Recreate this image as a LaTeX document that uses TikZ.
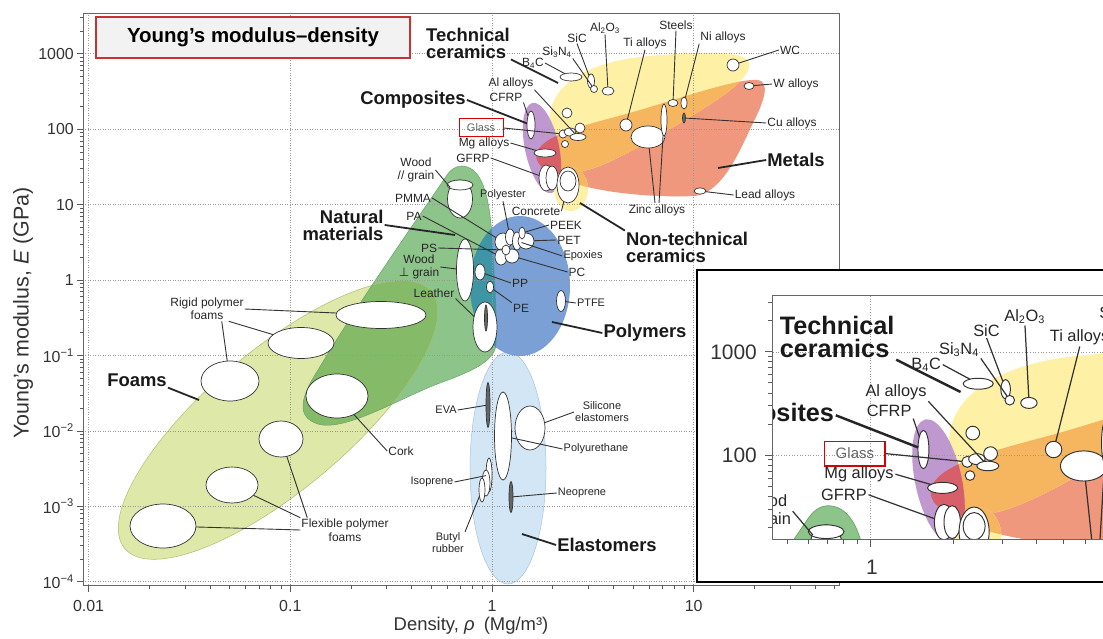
\documentclass[tikz,border=0pt]{standalone}
\usepackage{fontspec}
\setmainfont{Liberation Sans}
\newfontfamily\symfont{DejaVu Sans}
\usetikzlibrary{shapes.geometric}
\definecolor{foamc}{RGB}{222,232,168}
\definecolor{foaml}{RGB}{175,190,110}
\definecolor{natc}{RGB}{140,196,138}
\definecolor{natl}{RGB}{105,165,105}
\definecolor{natfoamc}{RGB}{132,186,104}
\definecolor{polyc}{RGB}{122,160,214}
\definecolor{natpolyc}{RGB}{62,150,165}
\definecolor{elasc}{RGB}{210,230,246}
\definecolor{elasl}{RGB}{170,195,215}
\definecolor{techc}{RGB}{254,241,165}
\definecolor{metc}{RGB}{240,152,125}
\definecolor{mettechc}{RGB}{246,182,95}
\definecolor{compc}{RGB}{192,152,208}
\definecolor{compmetc}{RGB}{215,95,105}
\definecolor{titlered}{RGB}{200,50,50}
\def\lwf{1}
\tikzset{
 bub/.style={ellipse, draw=black!80, fill=white, line width={0.7bp*\lwf}, inner sep=0pt, outer sep=0pt},
 bb/.style 2 args={bub, minimum width=#1bp, minimum height=#2bp},
 dk/.style 2 args={bb={#1}{#2}, fill=black!60},
 lab/.style={font=\fontsize{12}{13.5}\selectfont, inner sep=1bp, align=center, text=black!85},
 slab/.style={font=\fontsize{11}{12}\selectfont, inner sep=1bp, align=center, text=black!85},
 big/.style={font=\bfseries\fontsize{18.5}{17}\selectfont, inner sep=1bp, text=black!90},
 lead/.style={draw=black!80, line width={0.9bp*\lwf}},
 blead/.style={draw=black!85, line width={1.8bp*\lwf}},
 tick/.style={draw=black!65, line width=0.6bp},
 gridl/.style={draw=black!40, line width={0.5bp*\lwf}, dotted},
 tk/.style={font=\fontsize{16}{16}\selectfont, text=black!80, inner sep=0pt},
 itk/.style={font=\fontsize{21}{21}\selectfont, text=black!80, inner sep=0pt},
 glassbox/.style={draw=red!85!black, line width={1bp*\lwf}, text=black!60, font=\fontsize{11}{12}\selectfont, minimum width=44bp, minimum height=18bp, inner sep=1bp},
 titlebox/.style={draw=titlered, fill=black!5, line width=1.2bp, font=\bfseries\fontsize{20.5}{22}\selectfont, minimum width=314bp, minimum height=41bp},
 envl/.style={line width={0.5bp*\lwf}},
}
\def\foamsP{(278,420) ellipse [x radius=200, y radius=70]}
\def\natP{(462,166) .. controls (482,167) and (489,195) .. (492,235) .. controls (495,280) and (498,330) .. (496,345) .. controls (494,362) and (470,372) .. (440,383) .. controls (400,398) and (345,432) .. (318,424) .. controls (296,417) and (300,398) .. (318,370) .. controls (360,300) and (420,215) .. (445,178) .. controls (450,170) and (455,166) .. (462,166) -- cycle}
\def\polyP{(520,286) ellipse [x radius=50, y radius=70]}
\def\elasP{(508,468) ellipse [x radius=38, y radius=116]}
\def\techP{(550,125) .. controls (546,90) and (580,64) .. (640,57) .. controls (700,51) and (745,50) .. (749,63) .. controls (753,80) and (710,105) .. (665,132) .. controls (620,158) and (580,180) .. (560,170) .. controls (551,163) and (551,145) .. (550,125) -- cycle}
\def\metP{(537,152) .. controls (545,132) and (600,122) .. (640,110) .. controls (690,95) and (740,78) .. (758,80) .. controls (770,82) and (765,100) .. (752,125) .. controls (738,155) and (722,192) .. (695,196) .. controls (650,198) and (590,192) .. (560,178) .. controls (545,171) and (533,163) .. (537,152) -- cycle}
\def\compP{(542,148) ellipse [x radius=17, y radius=46]}
\def\ntcP{(571,189) ellipse [x radius=17, y radius=22]}
% ---------- envelopes, grid, bubbles ----------
\newcommand\chartshapes{%
\fill[foamc, rotate around={40:(278,420)}] \foamsP;
\fill[natc] \natP;
\begin{scope}
\clip[rotate around={40:(278,420)}] \foamsP;
\fill[natfoamc] \natP;
\end{scope}
\draw[foaml, envl, rotate around={40:(278,420)}] \foamsP;
\draw[natl, envl] \natP;
\fill[elasc] \elasP;
\draw[elasl, envl] \elasP;
\fill[polyc] \polyP;
\begin{scope}
\clip \natP;
\fill[natpolyc] \polyP;
\end{scope}
\fill[metc] \metP;
\fill[techc] \techP;
\begin{scope}
\clip \metP;
\fill[mettechc] \techP;
\end{scope}
\fill[compc, rotate around={12:(542,148)}] \compP;
\begin{scope}
\clip[rotate around={12:(542,148)}] \compP;
\fill[compmetc] \metP;
\end{scope}
\fill[techc] \ntcP;
\begin{scope}
\clip \ntcP;
\fill[mettechc] \metP;
\end{scope}
\foreach \gx in {88.6,290.3,492,693.7} \draw[gridl] (\gx,13) -- (\gx,585);
\foreach \k in {-4,...,3} \draw[gridl] (83,{280-75.43*\k}) -- (839,{280-75.43*\k});
\node[bb={66}{44}] (ffa) at (163,526) {};
\node[bb={52}{36}] (ffb) at (232,485) {};
\node[bb={44}{36}] (ffc) at (281,439) {};
\node[bb={58}{40}] (rfd) at (230,381) {};
\node[bb={66}{31}] (rfe) at (301,343) {};
\node[bb={90}{27}] (rff) at (381,315) {};
\node[bb={62}{44}] (cork) at (337,396) {};
\node[bb={25}{38}] (woodpar) at (460,199) {};
\node[bb={26}{10}] (woodtop) at (460,185) {};
\node[bb={17}{62}] (woodperp) at (465,270) {};
\node[bb={24}{50}] (leather) at (485,327) {};
\node[dk={3}{26}] (leatherbar) at (486,318) {};
\node[bb={16}{18}] (c1) at (503,242) {};
\node[bb={9}{16}] (c2) at (510,237) {};
\node[bb={9}{18}] (c3) at (517,241) {};
\node[bb={16}{16}] (c4) at (526,241) {};
\node[bb={6}{12}] (c5) at (522,233) {};
\node[bb={12}{16}] (c6) at (501,257) {};
\node[bb={14}{14}] (c7) at (512,256) {};
\node[bb={8}{10}] (c8) at (506,250) {};
\node[bb={10}{16}] (pp) at (480,272) {};
\node[bb={7}{12}] (pe) at (490,287) {};
\node[bb={9}{21}] (ptfe) at (561,301) {};
\node[dk={4}{45}] (eva) at (488,405) {};
\node[bb={17}{88}] (pu) at (503,436) {};
\node[bb={30}{44}] (sil) at (530,428) {};
\node[bb={6}{34}] (iso1) at (489,475) {};
\node[bb={8}{26}] (iso2) at (486,483) {};
\node[bb={6}{24}] (butyl) at (482,490) {};
\node[dk={4}{31}] (neo) at (511,497) {};
\node[bb={8}{28}] (cfrp) at (531,125) {};
\node[bb={8}{8}] (glassb) at (563,134) {};
\node[bb={12}{8}] (al1) at (570,132) {};
\node[bb={10}{10}] (al2) at (580,128) {};
\node[bb={16}{7}] (al3) at (578,137) {};
\node[bb={7}{7}] (s1) at (565,144) {};
\node[bb={10}{10}] (s2) at (567,113) {};
\node[bb={22}{8}] (mg) at (545,153) {};
\node[bb={14}{26}] (gfrp1) at (546,178) {};
\node[bb={12}{24}] (gfrp2) at (552,178) {};
\node[bb={22}{36}] (conc) at (568,185) {};
\node[bb={16}{20}] (conc2) at (568,181) {};
\node[bb={22}{8}] (b4c) at (571,77) {};
\node[bb={7}{14}] (sic) at (591,81) {};
\node[bb={7}{7}] (si3n4) at (594,89) {};
\node[bb={12}{8}] (al2o3) at (608,91) {};
\node[bb={12}{12}] (ti) at (626,125) {};
\node[bb={34}{22}] (zinc) at (648,137) {};
\node[bb={6}{32}] (st3) at (664,120) {};
\node[bb={10}{7}] (st1) at (673,103) {};
\node[bb={6}{12}] (st2) at (684,103) {};
\node[dk={3}{10}] (cu) at (684,118) {};
\node[bb={12}{12}] (wc) at (733,65) {};
\node[bb={10}{7}] (wal) at (749,86) {};
\node[bb={12}{6}] (leadb) at (700,191) {};
\coordinate (foamsp) at (199,400);
\coordinate (natp) at (455,235);
\coordinate (polyp) at (552,322);
\coordinate (elastp) at (522,534);
\coordinate (techp) at (558,83);
\coordinate (metp) at (718,168);
\coordinate (ntcp) at (580,203);
\coordinate (zincfoot) at (655,203);
\coordinate (zincfoot2) at (659,203);
\draw[lead] (zincfoot) -- (zinc);
\draw[lead] (zincfoot2) -- (st3);
}
% ---------- labels of the upper part (also in the inset) ----------
\newcommand\chartlabelsA{%
\node[lab] (lwood) at (416,170) {Wood\\// grain};
\node[big] (lcomp) at (413,100) {Composites};
\node[lab] (lal) at (511,83) {Al alloys};
\node[lab] (lcfrp) at (506,97) {CFRP};
\node[glassbox] (lglass) at (481,128) {Glass};
\node[lab] (lmg) at (484,143) {Mg alloys};
\node[lab] (lgfrp) at (473,158) {GFRP};
\node[big, align=left] (ltech) at (468,43) {Technical\\ceramics};
\node[lab] (lb4c) at (533,63) {B\textsubscript{4}C};
\node[lab] (lsi3n4) at (557,52) {Si\textsubscript{3}N\textsubscript{4}};
\node[lab] (lsic) at (577,38) {SiC};
\node[lab] (lal2o3) at (605,28) {Al\textsubscript{2}O\textsubscript{3}};
\node[lab] (lti) at (645,43) {Ti alloys};
\node[lab] (lsteels) at (676,25) {Steels};
\draw[lead] (lwood.east) -- (woodpar);
\draw[blead] (lcomp.east) -- (cfrp);
\draw[lead] (lal.south east) -- (al3);
\draw[lead] (lcfrp.south east) -- (cfrp);
\draw[lead] (lglass.east) -- (glassb);
\draw[lead] (lmg.east) -- (mg);
\draw[lead] (lgfrp.east) -- (gfrp1);
\draw[blead] (ltech.south east) -- (techp);
\draw[lead] (lb4c.east) -- (b4c);
\draw[lead] (lsi3n4.south east) -- (si3n4);
\draw[lead] (lsic.south) -- (sic);
\draw[lead] (lal2o3.south) -- (al2o3);
\draw[lead] (lti.south) -- (ti);
\draw[lead] (lsteels.south) -- (st1);
}
% ---------- the other labels ----------
\newcommand\chartlabelsB{%
\node[lab] (lrigid) at (207,309) {Rigid polymer\\foams};
\node[big] (lfoams) at (137,380) {Foams};
\node[lab] (lcork) at (401,451) {Cork};
\node[lab] (lflex) at (345,530) {Flexible polymer\\foams};
\node[big, align=right] (lnat) at (343,225) {Natural\\materials};
\node[lab] (lpmma) at (413,198) {PMMA};
\node[lab] (lpa) at (414,216) {PA};
\node[lab] (lps) at (429,248) {PS};
\node[lab] (lwoodp) at (419,267) {Wood\\{\symfont ⊥} grain};
\node[lab] (lleather) at (434,293) {Leather};
\node[slab] (lpolyester) at (503,195) {Polyester};
\node[lab] (lconcrete) at (536,211) {Concrete};
\node[lab] (lpeek) at (566,225) {PEEK};
\node[lab] (lpet) at (569,240) {PET};
\node[slab] (lepox) at (583,256) {Epoxies};
\node[lab] (lpc) at (577,272) {PC};
\node[lab] (lpp) at (520,283) {PP};
\node[lab] (lpe) at (521,308) {PE};
\node[slab] (lptfe) at (591,303) {PTFE};
\node[big] (lpolymers) at (645,333) {Polymers};
\node[slab] (leva) at (446,410) {EVA};
\node[slab] (lsil) at (602,412) {Silicone\\elastomers};
\node[slab] (lpu) at (596,449) {Polyurethane};
\node[slab] (liso) at (432,482) {Isoprene};
\node[slab] (lbutyl) at (448,543) {Butyl\\rubber};
\node[slab] (lneo) at (582,493) {Neoprene};
\node[big] (lelast) at (607,545) {Elastomers};
\node[lab] (lni) at (723,37) {Ni alloys};
\node[lab] (lwc) at (790,50) {WC};
\node[lab] (lw) at (796,84) {W alloys};
\node[lab] (lcu) at (792,123) {Cu alloys};
\node[big] (lmetals) at (796,160) {Metals};
\node[lab] (llead) at (765,195) {Lead alloys};
\node[lab] (lzinc) at (657,210) {Zinc alloys};
\node[big, align=left] (lnontech) at (687,247) {Non-technical\\ceramics};
\draw[lead] (lrigid.east) -- (rff);
\draw[lead] ([xshift=-16bp]lrigid.south east) -- (rfe);
\draw[lead] ([xshift=-23bp]lrigid.south east) -- (rfd);
\draw[blead] (lfoams.south east) -- (foamsp);
\draw[lead] (lcork.west) -- (cork);
\draw[lead] (lflex.west) -- (ffa);
\draw[lead] (lflex.north west) -- (ffb);
\draw[lead] ([xshift=7bp]lflex.north west) -- (ffc);
\draw[blead] (lnat.east) -- (natp);
\draw[lead] (lpmma.east) -- (c1);
\draw[lead] (lpa.east) -- (c6);
\draw[lead] (lps.east) -- (c8);
\draw[lead] (lwoodp.east) -- (woodperp);
\draw[lead] (lleather.south east) -- (leather);
\draw[lead] (lpolyester.south) -- (c2);
\draw[lead] (lconcrete.east) -- (conc);
\draw[lead] (lpeek.west) -- (c5);
\draw[lead] (lpet.west) -- (c4);
\draw[lead] (lepox.west) -- (c3);
\draw[lead] (lpc.west) -- (c7);
\draw[lead] (lpp.west) -- (pp);
\draw[lead] (lpe.north west) -- (pe);
\draw[lead] (lptfe.west) -- (ptfe);
\draw[blead] (lpolymers.west) -- (polyp);
\draw[lead] (leva.east) -- (eva);
\draw[lead] (lsil.west) -- (sil);
\draw[lead] (lpu.west) -- (pu);
\draw[lead] (liso.east) -- (iso1);
\draw[lead] (lbutyl.north east) -- (butyl);
\draw[lead] (lneo.west) -- (neo);
\draw[blead] (lelast.west) -- (elastp);
\draw[lead] (lni.south west) -- (st2);
\draw[lead] (lwc.west) -- (wc);
\draw[lead] (lw.west) -- (wal);
\draw[lead] (lcu.west) -- (cu);
\draw[blead] (lmetals.west) -- (metp);
\draw[lead] (llead.west) -- (leadb);
\draw[blead] (lnontech.north west) -- (ntcp);
}
\begin{document}
\begin{tikzpicture}[x=1bp, y=-1bp]
\useasboundingbox (0,0) rectangle (1103,639);
\fill[white] (0,0) rectangle (1103,639);
\chartshapes
\chartlabelsA
\chartlabelsB
% frame and axes
\draw[black!60, line width=0.8bp] (83,13) rectangle (839,585);
\foreach \k in {-4,...,3} \draw[tick] (83,{280-75.43*\k}) -- ++(-6,0);
\foreach \k in {-4,...,2} \foreach \m in {2,...,9} \draw[tick] (83,{280-75.43*(\k+log10(\m))}) -- ++(-3,0);
\foreach \m in {2,3} \draw[tick] (83,{280-75.43*(3+log10(\m))}) -- ++(-3,0);
\foreach \k in {-2,...,1} \draw[tick] ({492+201.7*\k},585) -- ++(0,7);
\foreach \k in {-2,...,0} \foreach \m in {2,...,9} \draw[tick] ({492+201.7*(\k+log10(\m))},585) -- ++(0,4);
\foreach \m in {2,...,5} \draw[tick] ({492+201.7*(1+log10(\m))},585) -- ++(0,4);
\node[tk, anchor=east] (y3) at (74,53.7) {1000};
\node[tk, anchor=east] (y2) at (74,129.1) {100};
\node[tk, anchor=east] (y1) at (74,204.6) {10};
\node[tk, anchor=east] (y0) at (74,280) {1};
\node[tk, anchor=east] (ym1) at (74,355.4) {10\textsuperscript{−1}};
\node[tk, anchor=east] (ym2) at (74,430.9) {10\textsuperscript{−2}};
\node[tk, anchor=east] (ym3) at (74,506.3) {10\textsuperscript{−3}};
\node[tk, anchor=east] (ym4) at (74,581.7) {10\textsuperscript{−4}};
\node[tk] (x0) at (88.6,606) {0.01};
\node[tk] (x1) at (290.3,606) {0.1};
\node[tk] (x2) at (492,606) {1};
\node[tk] (x3) at (693.7,606) {10};
\node[font=\fontsize{18.5}{19}\selectfont, text=black!80, inner sep=0pt] (xlab) at (471,626) {Density, \textit{ρ}\enspace(Mg/m³)};
\node[font=\fontsize{21.5}{22}\selectfont, text=black!80, rotate=90, inner sep=0pt] (ylab) at (23,313) {Young’s modulus, \textit{E} (GPa)};
\node[titlebox] (title) at (253,37.5) {Young’s modulus–density};
% inset
\fill[white] (697,270) rectangle (1110,582);
\begin{scope}
\clip (772,295) rectangle (1103,539);
\begin{scope}[shift={(870,455)}, scale=1.37, shift={(-492,-129)}, transform shape]
\def\lwf{1.37}
\chartshapes
\chartlabelsA
\end{scope}
\end{scope}
\draw[black!60, line width=0.8bp] (1103,295) -- (772,295) -- (772,539) -- (1103,539);
\foreach \k in {2,3} \draw[tick] (772,{455-103.3*(\k-2)}) -- ++(-7,0);
\foreach \k in {1,2} \foreach \m in {2,...,9} \draw[tick] (772,{455-103.3*(\k-2+log10(\m))}) -- ++(-4,0);
\foreach \m in {2,3} \draw[tick] (772,{455-103.3*(1+log10(\m))}) -- ++(-4,0);
\draw[tick] (870,539) -- ++(0,8);
\foreach \m in {5,...,9} \draw[tick] ({870+276.3*(-1+log10(\m))},539) -- ++(0,5);
\foreach \m in {2,...,6} \draw[tick] ({870+276.3*log10(\m)},539) -- ++(0,5);
\node[itk, anchor=east] (iy3) at (757,352) {1000};
\node[itk, anchor=east] (iy2) at (757,455) {100};
\node[itk] (ix0) at (872,567) {1};
\draw[black, line width=1.5bp] (697,270) rectangle (1110,582);
\end{tikzpicture}
\end{document}
